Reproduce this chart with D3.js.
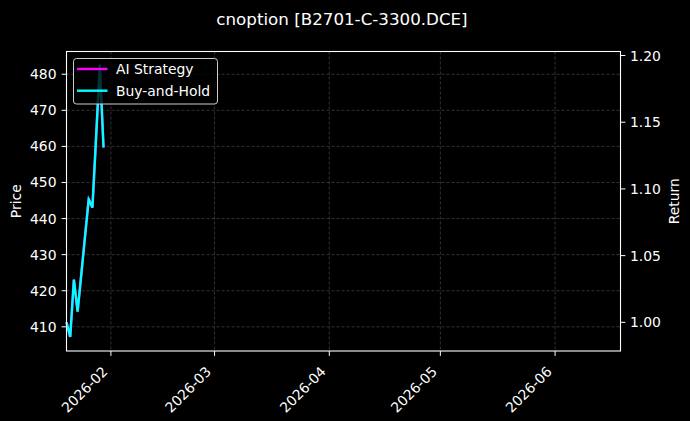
<!DOCTYPE html>
<html>
<head>
<meta charset="utf-8">
<script src="https://cdn.jsdelivr.net/npm/d3@7"></script>
<style>
  html, body { margin: 0; padding: 0; background: #000; }
  svg { display: block; font-family: "DejaVu Sans", sans-serif; }
</style>
</head>
<body>
<div id="chart"></div>
<script>
// values
const dates = ["2026-01-20", "2026-01-21", "2026-01-22", "2026-01-23",
  "2026-01-26", "2026-01-27", "2026-01-28", "2026-01-29", "2026-01-30"];
const aiStrategy = [1.000, 0.989, 1.032, 1.008, 1.093, 1.086, 1.139, 1.193, 1.131];
const buyAndHold = [1.000, 0.989, 1.032, 1.008, 1.092, 1.086, 1.139, 1.193, 1.131];
const priceTicks = [410, 420, 430, 440, 450, 460, 470, 480];
const returnTicks = [1.00, 1.05, 1.10, 1.15, 1.20];
const monthTicks = ["2026-02-01", "2026-03-01", "2026-04-01", "2026-05-01", "2026-06-01"];

const width = 690, height = 421;
const m = { left: 66.5, right: 620.5, top: 51.5, bottom: 351 };
const fs = 13.9; // 10pt at 100dpi
const parse = d3.utcParse("%Y-%m-%d");

const x = d3.scaleUtc()
  .domain([parse("2026-01-20"), new Date(Date.UTC(2026, 5, 18, 16))])
  .range([m.left, m.right]);
const yPrice = d3.scaleLinear().domain([403.3, 486.3]).range([m.bottom, m.top]);
const yRet = d3.scaleLinear().domain([0.9785, 1.203]).range([m.bottom, m.top]);

const svg = d3.select("#chart").append("svg")
  .attr("width", width).attr("height", height)
  .attr("viewBox", [0, 0, width, height]);

svg.append("rect").attr("width", width).attr("height", height).attr("fill", "#000");

// grid
const grid = svg.append("g")
  .attr("stroke", "#555").attr("stroke-width", 0.6).attr("stroke-dasharray", "3,2");
grid.selectAll("line.h").data(priceTicks).join("line")
  .attr("x1", m.left).attr("x2", m.right)
  .attr("y1", d => yPrice(d)).attr("y2", d => yPrice(d));
grid.selectAll("line.v").data(monthTicks).join("line")
  .attr("x1", d => x(parse(d))).attr("x2", d => x(parse(d)))
  .attr("y1", m.top).attr("y2", m.bottom);

// lines
const line = d3.line()
  .x((d, i) => x(parse(dates[i])))
  .y(d => yRet(d));

svg.append("path").datum(aiStrategy)
  .attr("d", line).attr("fill", "none")
  .attr("stroke", "#ff00ff").attr("stroke-width", 2.4);
svg.append("path").datum(buyAndHold)
  .attr("d", line).attr("fill", "none")
  .attr("stroke", "#00ffff").attr("stroke-width", 2.4);

// frame
svg.append("rect")
  .attr("x", m.left).attr("y", m.top)
  .attr("width", m.right - m.left).attr("height", m.bottom - m.top)
  .attr("fill", "none").attr("stroke", "#fff").attr("stroke-width", 1.1);

// left axis
const gl = svg.append("g");
gl.selectAll("line").data(priceTicks).join("line")
  .attr("x1", m.left - 4.9).attr("x2", m.left)
  .attr("y1", d => yPrice(d)).attr("y2", d => yPrice(d))
  .attr("stroke", "#fff");
gl.selectAll("text").data(priceTicks).join("text")
  .attr("x", m.left - 10).attr("y", d => yPrice(d))
  .attr("text-anchor", "end").attr("dominant-baseline", "central")
  .attr("fill", "#fff").attr("font-size", fs)
  .text(d => d);

// right axis
const gr = svg.append("g");
gr.selectAll("line").data(returnTicks).join("line")
  .attr("x1", m.right).attr("x2", m.right + 4.9)
  .attr("y1", d => yRet(d)).attr("y2", d => yRet(d))
  .attr("stroke", "#fff");
gr.selectAll("text").data(returnTicks).join("text")
  .attr("x", m.right + 9.5).attr("y", d => yRet(d))
  .attr("dominant-baseline", "central")
  .attr("fill", "#fff").attr("font-size", fs)
  .text(d => d3.format(".2f")(d));

// bottom axis
const gb = svg.append("g");
gb.selectAll("line").data(monthTicks).join("line")
  .attr("x1", d => x(parse(d))).attr("x2", d => x(parse(d)))
  .attr("y1", m.bottom).attr("y2", m.bottom + 4.9)
  .attr("stroke", "#fff");
gb.selectAll("text").data(monthTicks).join("text")
  .attr("transform", d => `translate(${x(parse(d)) - 6},${m.bottom + 18}) rotate(-45)`)
  .attr("text-anchor", "end").attr("dominant-baseline", "central")
  .attr("fill", "#fff").attr("font-size", fs)
  .text(d => d3.utcFormat("%Y-%m")(parse(d)));

// axis labels + title
svg.append("text")
  .attr("transform", `translate(16,${(m.top + m.bottom) / 2}) rotate(-90)`)
  .attr("text-anchor", "middle").attr("dominant-baseline", "central")
  .attr("fill", "#fff").attr("font-size", fs).text("Price");
svg.append("text")
  .attr("transform", `translate(674,${(m.top + m.bottom) / 2}) rotate(-90)`)
  .attr("text-anchor", "middle").attr("dominant-baseline", "central")
  .attr("fill", "#fff").attr("font-size", fs).text("Return");
svg.append("text")
  .attr("x", 342).attr("y", 25)
  .attr("text-anchor", "middle")
  .attr("fill", "#fff").attr("font-size", 16.7)
  .text("cnoption [B2701-C-3300.DCE]");

// legend
const lg = svg.append("g");
lg.append("rect")
  .attr("x", 73.5).attr("y", 58.5).attr("width", 144).attr("height", 45.5)
  .attr("rx", 3).attr("fill", "#000").attr("fill-opacity", 0.8)
  .attr("stroke", "#ccc").attr("stroke-width", 1);
const items = [["AI Strategy", "#ff00ff"], ["Buy-and-Hold", "#00ffff"]];
lg.selectAll("g").data(items).join("g")
  .attr("transform", (d, i) => `translate(0,${69 + i * 21.7})`)
  .each(function (d) {
    const g = d3.select(this);
    g.append("line").attr("x1", 77).attr("x2", 107.5)
      .attr("stroke", d[1]).attr("stroke-width", 2.4);
    g.append("text").attr("x", 116).attr("dominant-baseline", "central")
      .attr("fill", "#fff").attr("font-size", fs).text(d[0]);
  });
</script>
</body>
</html>
